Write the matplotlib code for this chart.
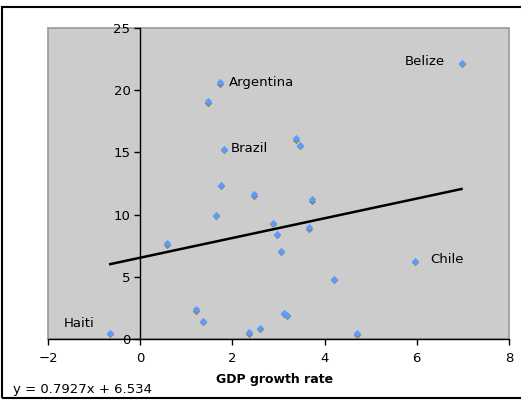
import matplotlib.pyplot as plt
import matplotlib.transforms as mtransforms
from matplotlib.patches import Rectangle

# GDP growth rate (x) vs. second variable (y), one point per country
gdp_growth = [-0.65, 0.58, 1.21, 1.36, 1.47, 1.65, 1.74, 1.75, 1.81, 2.37, 2.47, 2.60,
              2.88, 2.97, 3.06, 3.12, 3.19, 3.38, 3.47, 3.67, 3.72, 4.20, 4.71, 5.96, 6.97]
values = [0.5, 7.7, 2.4, 1.45, 19.1, 10.0, 20.65, 12.4, 15.3, 0.55, 11.65, 0.9,
          9.35, 8.45, 7.1, 2.1, 1.95, 16.15, 15.6, 9.0, 11.25, 4.85, 0.45, 6.3, 22.2]

# labelled countries: (name, x, y, offset in points, alignment)
labels = [
    ('Argentina', 1.74, 20.65, (6, 0), 'left'),
    ('Brazil', 1.81, 15.3, (5, 0), 'left'),
    ('Belize', 6.97, 22.2, (-12, 1), 'right'),
    ('Chile', 5.96, 6.3, (11, 1), 'left'),
    ('Haiti', -0.65, 0.5, (-11, 7), 'right'),
]

slope = 0.7927
intercept = 6.534

fig = plt.figure(figsize=(5.21, 4.0), dpi=100)
ax = fig.add_axes([48 / 521, 1 - 339 / 400, (509 - 48) / 521, (339 - 28) / 400])
ax.set_facecolor('#cccccc')
ax.patch.set_edgecolor('#999999')
ax.patch.set_linewidth(1.2)

ax.set_xlim(-2, 8)
ax.set_ylim(0, 25)
ax.set_xticks(range(-2, 9, 2))
ax.set_yticks(range(0, 26, 5))

ax.spines['left'].set_position(('data', 0))
ax.spines['top'].set_visible(False)
ax.spines['right'].set_visible(False)
for s in ('left', 'bottom'):
    ax.spines[s].set_linewidth(1.0)
ax.tick_params(direction='out', length=4, width=1, labelsize=9.5, pad=3)
ax.tick_params(axis='x', pad=5)

# trendline over the range of the data
x0, x1 = min(gdp_growth), max(gdp_growth)
ax.plot([x0, x1], [slope * x0 + intercept, slope * x1 + intercept],
        color='black', lw=1.8, zorder=3)

# diamond markers with a small grey shadow beneath
shadow = mtransforms.offset_copy(ax.transData, fig=fig, x=0, y=-1.5, units='dots')
ax.scatter(gdp_growth, values, marker='D', s=14, color='#808080', lw=0,
           transform=shadow, zorder=4)
ax.scatter(gdp_growth, values, marker='D', s=14, color='#5c9cff', lw=0, zorder=5)

for name, x, y, off, ha in labels:
    ax.annotate(name, (x, y), xytext=off, textcoords='offset points',
                ha=ha, va='center', fontsize=9.5, color='black')

fig.text(275 / 521, 1 - 380 / 400, 'GDP growth rate', ha='center', va='center',
         fontsize=9, fontweight='bold')
fig.text(13 / 521, 1 - 389 / 400, f'y = {slope}x + {intercept}', ha='left',
         va='center', fontsize=9.5)

# outer chart frame (right edge runs past the canvas)
fig.add_artist(Rectangle((2 / 521, 2 / 400), 1.05, 1 - 9 / 400, transform=fig.transFigure,
                         fill=False, edgecolor='black', lw=1.5))

fig.savefig('out.png', dpi=100)
